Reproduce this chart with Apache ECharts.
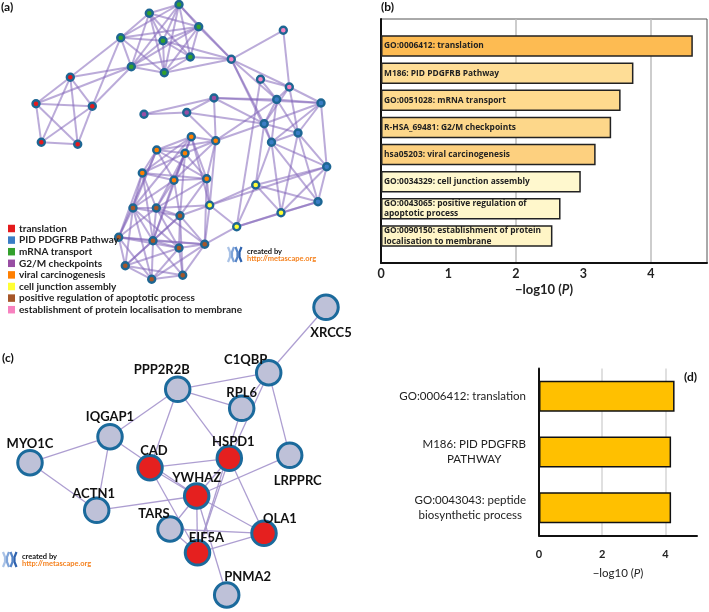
<!DOCTYPE html>
<html><head><meta charset="utf-8">
<script src="https://cdn.jsdelivr.net/npm/echarts@6/dist/echarts.min.js"></script>
<style>html,body{margin:0;padding:0;background:#fff}#c{width:709px;height:612px}</style>
</head><body><div id="c"></div>
<script>
// ---------- DATA ----------
// (b) enrichment bar chart
const termsB = ['GO:0006412: translation', 'M186: PID PDGFRB Pathway', 'GO:0051028: mRNA transport',
  'R-HSA_69481: G2/M checkpoints', 'hsa05203: viral carcinogenesis', 'GO:0034329: cell junction assembly',
  'GO:0043065: positive regulation of\napoptotic process', 'GO:0090150: establishment of protein\nlocalisation to membrane'];
const valuesB = [4.62, 3.74, 3.55, 3.41, 3.18, 2.96, 2.66, 2.54];
const ticksB = [0, 1, 2, 3, 4];
// (d) MCODE enrichment
const termsD = ['GO:0006412: translation', 'M186: PID PDGFRB\nPATHWAY', 'GO:0043043: peptide\nbiosynthetic process'];
const valuesD = [4.29, 4.18, 4.18];
const ticksD = [0, 2, 4];
// (a) enriched-term network
const netCategories = ['translation', 'PID PDGFRB Pathway', 'mRNA transport', 'G2/M checkpoints',
  'viral carcinogenesis', 'cell junction assembly', 'positive regulation of apoptotic process',
  'establishment of protein localisation to membrane'];
const netIds = ['r1','r2','r3','r4','r5', 'b1','b2','b3','b4','b5','b6','b7',
  'g1','g2','g3','g4','g5','g6','g7','g8', 'm1','m2','m3', 'o1','o2','o3','o4','o5','o6','o7',
  'y1','y2','y3','y4', 'w1','w2','w3','w4','w5','w6','w7','w8','w9','w10', 'p1','p2','p3','p4'];
const netCat = [0,0,0,0,0, 1,1,1,1,1,1,1, 2,2,2,2,2,2,2,2, 3,3,3, 4,4,4,4,4,4,4,
  5,5,5,5, 6,6,6,6,6,6,6,6,6,6, 7,7,7,7];
const netX = [70.3,36,92.3,41.3,77.7, 276.7,321,264.2,298,271.5,326.7,318,
  179,149.3,198.7,120.7,163,190.3,131.3,164.3, 144,186.7,214, 191.3,215.7,156.7,185,142.3,174,206.7,
  255.7,209.7,281,236.7, 133,156.3,180,118.7,153,179,204.7,125.3,151.7,182.7, 283.3,231.3,260.5,289.3];
const netY = [77.3,103.7,106.3,142.3,144.3, 99.5,103,123.7,133,142.3,166.7,201.7,
  4.5,13.3,26.7,37.7,40.7,57,66.7,72.7, 114.3,112.5,98, 136.7,140.7,150,153.3,173,180.3,178.7,
  185,205.3,212.7,226.7, 208,208,215.7,237.3,240.7,248,244.3,265.7,279.3,275.3, 30.3,59.3,79.3,87];
const netEdges = [
 ['g1','g2'],['g1','g3'],['g1','g5'],['g1','g6'],['g1','g8'],['g1','g4'],['g1','g7'],['g2','g3'],['g2','g4'],['g2','g5'],
 ['g2','g6'],['g2','g7'],['g2','g8'],['g3','g5'],['g3','g6'],['g3','g8'],['g3','g7'],['g4','g5'],['g4','g7'],['g4','g8'],
 ['g5','g6'],['g5','g7'],['g5','g8'],['g6','g7'],['g6','g8'],['g7','g8'],['g3','g4'],
 ['g1','p2'],['g3','p2'],['g6','p2'],['g5','p2'],['g8','p2'],
 ['g4','r1'],['g7','r1'],['g7','r3'],['g4','r3'],['g7','r2'],
 ['r1','r2'],['r1','r3'],['r1','r4'],['r1','r5'],['r2','r3'],['r2','r4'],['r2','r5'],['r3','r4'],['r3','r5'],['r4','r5'],
 ['p1','p2'],['p1','p4'],['p2','p4'],['p3','p4'],['p2','b1'],['p2','b5'],['p2','b3'],['p3','y4'],['p3','b1'],['p4','b1'],
 ['p4','b4'],['p4','b3'],['p4','b2'],
 ['m1','m2'],['m1','m3'],['m2','m3'],['m2','b3'],['m3','b1'],['m3','b2'],['m3','o2'],['m2','o2'],['m3','b3'],
 ['b1','b2'],['b1','b3'],['b1','b4'],['b1','b5'],['b2','b3'],['b2','b4'],['b2','b5'],['b3','b4'],['b3','b5'],['b4','b5'],
 ['b4','b6'],['b5','b6'],['b4','b7'],['b5','b7'],['b6','b7'],['b2','b6'],
 ['b5','y1'],['b5','y3'],['b4','y3'],['b6','y1'],['b6','y3'],['b7','y1'],['b7','y3'],['b3','y1'],['b6','y2'],['b7','y4'],
 ['o2','b3'],['o2','b1'],
 ['y1','y2'],['y1','y3'],['y1','y4'],['y2','y4'],['y3','y4'],['y2','o7'],['y2','w3'],['y2','w7'],['y2','o2'],['y4','w7'],
 ['y2','w2'],['y2','o1'],
 ['o1','o2'],['o1','o3'],['o1','o4'],['o1','o5'],['o1','o6'],['o1','o7'],['o2','o4'],['o2','o7'],['o2','o6'],['o3','o4'],
 ['o3','o5'],['o3','o6'],['o3','o7'],['o4','o5'],['o4','o6'],['o4','o7'],['o5','o6'],['o5','o7'],['o6','o7'],['o2','o3'],
 ['o5','w1'],['o5','w2'],['o5','w4'],['o6','w1'],['o6','w2'],['o6','w3'],['o7','w3'],['o7','w2'],['o3','w1'],['o4','w2'],
 ['o4','w3'],['o7','w7'],['o6','w5'],['o3','w4'],['o5','w5'],['o4','w5'],['o1','w1'],
 ['w1','w2'],['w1','w3'],['w1','w4'],['w1','w5'],['w1','w6'],['w1','w8'],['w2','w3'],['w2','w4'],['w2','w5'],['w2','w6'],
 ['w2','w7'],['w3','w5'],['w3','w6'],['w3','w7'],['w4','w5'],['w4','w6'],['w4','w7'],['w4','w8'],['w4','w9'],['w5','w6'],
 ['w5','w7'],['w5','w8'],['w5','w9'],['w5','w10'],['w6','w7'],['w6','w8'],['w6','w9'],['w6','w10'],['w7','w10'],['w8','w9'],
 ['w8','w10'],['w9','w10'],['w7','w9'],['w3','w8'],['w1','w9'],['w3','w10']
];
// (c) PPI network (MCODE)
const ppiNames = ['XRCC5','C1QBP','PPP2R2B','RPL6','IQGAP1','MYO1C','CAD','HSPD1','LRPPRC','YWHAZ','ACTN1','TARS','OLA1','EIF5A','PNMA2'];
const ppiX = [326, 268.7, 177.7, 241.7, 110, 30, 150, 229.3, 289.7, 196.7, 96.7, 170, 264, 197.5, 226.7];
const ppiY = [307.3, 372.7, 389.3, 408.3, 436.7, 462.7, 467.7, 458.3, 455.3, 496, 510.3, 529, 533.3, 552.8, 595];
const ppiInMcode = [0,0,0,0,0,0,1,1,0,1,0,0,1,1,0];
const ppiEdges = [
 ['XRCC5','C1QBP'],['C1QBP','PPP2R2B'],['C1QBP','RPL6'],['C1QBP','LRPPRC'],['C1QBP','HSPD1'],
 ['PPP2R2B','RPL6'],['PPP2R2B','HSPD1'],['PPP2R2B','CAD'],['PPP2R2B','IQGAP1'],['RPL6','EIF5A'],
 ['IQGAP1','MYO1C'],['IQGAP1','ACTN1'],['IQGAP1','YWHAZ'],['MYO1C','ACTN1'],['ACTN1','YWHAZ'],
 ['CAD','HSPD1'],['CAD','YWHAZ'],['CAD','EIF5A'],['HSPD1','YWHAZ'],['HSPD1','OLA1'],['HSPD1','EIF5A'],
 ['LRPPRC','YWHAZ'],['YWHAZ','TARS'],['YWHAZ','EIF5A'],['YWHAZ','OLA1'],['YWHAZ','PNMA2'],
 ['TARS','OLA1'],['TARS','EIF5A'],['EIF5A','OLA1']
];

// ---------- STYLE ----------
const FONT = 'Lato';
const catColors = ['#E41A1C','#3A7DC5','#33A02C','#984EA3','#FF7F00','#FFFF33','#A65628','#F781BF'];
const barColorsB = ['#FDBB52','#FEDD96','#FEDA8E','#FDD78A','#FDD07F','#FFF8CE','#FFF7CB','#FFF5C6'];
const labelOffsetC = {XRCC5:['bottom',5,5.5], C1QBP:['top',-23,7], PPP2R2B:['top',-16,0.5], RPL6:['top',0,4.5],
  IQGAP1:['top',0,0.5], MYO1C:['top',0,1.5], CAD:['top',4,3], HSPD1:['top',4,3.5], LRPPRC:['bottom',8,5],
  YWHAZ:['top',0,2.5], ACTN1:['top',-3,3.5], TARS:['top',-16,5], OLA1:['top',16,6], EIF5A:['top',9,5.5], PNMA2:['top',21,2.5]};

const chart = echarts.init(document.getElementById('c'), null, {renderer: 'canvas'});

const netData = netIds.map((id, i) => ({name: id, value: [netX[i], netY[i]], category: netCat[i]}));
const netLinks = netEdges.map(e => ({source: e[0], target: e[1]}));
const ppiData = ppiNames.map((n, i) => {
  const lo = labelOffsetC[n];
  return {name: n, value: [ppiX[i], ppiY[i]],
    itemStyle: {color: ppiInMcode[i] ? '#E5201F' : '#BEC1D8'},
    label: {position: lo[0], offset: [lo[1], lo[2]]}};
});
const ppiLinks = ppiEdges.map(e => ({source: e[0], target: e[1]}));

const bCats = [''].concat(termsB, ['']);
const bData = [null].concat(valuesB.map((v, i) => ({value: v, itemStyle: {color: barColorsB[i]}})), [null]);

function watermark(x, y) {
  return {type: 'group', x: x, y: y, children: [
    {type: 'polyline', shape: {points: [[0,0],[2,5],[2,10],[0,15]]}, style: {stroke: '#A9C2E6', lineWidth: 2.2, fill: null}},
    {type: 'polyline', shape: {points: [[6,0],[4,5],[4,10],[6,15]]}, style: {stroke: '#7EA3D8', lineWidth: 2.2, fill: null}},
    {type: 'polyline', shape: {points: [[7.5,0],[9.5,5],[9.5,10],[7.5,15]]}, style: {stroke: '#5584C6', lineWidth: 2.2, fill: null}},
    {type: 'polyline', shape: {points: [[13.5,0],[11.5,5],[11.5,10],[13.5,15]]}, style: {stroke: '#2E62AE', lineWidth: 2.2, fill: null}},
    {type: 'text', x: 19, y: 4.5, style: {text: 'created by', fontSize: 7.5, fontWeight: 'bold', fontFamily: FONT, fill: '#111', verticalAlign: 'middle'}},
    {type: 'text', x: 19, y: 12, style: {text: 'http://metascape.org', fontSize: 7.5, fontWeight: 'bold', fontFamily: FONT, fill: '#F5821F', verticalAlign: 'middle'}}
  ]};
}

const option = {
  animation: false,
  textStyle: {fontFamily: FONT},
  grid: [
    {left: 0, top: 0, width: 360, height: 612},
    {left: 381, top: 19, width: 326, height: 244, show: true, borderColor: '#555', borderWidth: 1},
    {left: 539, top: 368.5, width: 158, height: 167}
  ],
  xAxis: [
    {gridIndex: 0, type: 'value', min: 0, max: 360, show: false},
    {gridIndex: 1, type: 'value', min: 0, max: 4.83, interval: 1,
      axisLine: {show: true, lineStyle: {color: '#111', width: 2}}, axisTick: {show: false},
      splitLine: {show: false},
      axisLabel: {showMaxLabel: false, fontSize: 12.5, fontWeight: 'bold', color: '#222', margin: 4,
        formatter: v => ticksB.indexOf(v) >= 0 ? String(v) : ''},
      name: '\u2212log10 ({i|P})', nameLocation: 'middle', nameGap: 20,
      nameTextStyle: {fontSize: 13, fontWeight: 'bold', color: '#222', rich: {i: {fontStyle: 'italic', fontSize: 13, fontWeight: 'bold', color: '#222'}}}},
    {gridIndex: 1, type: 'value', min: 0, max: 4.83, interval: 2, show: true, position: 'top',
      axisLine: {show: false}, axisTick: {show: false}, axisLabel: {show: false},
      splitLine: {show: true, showMinLine: false, showMaxLine: false, lineStyle: {color: '#BDBDBD', width: 1.5}}},
    {gridIndex: 2, type: 'value', min: 0, max: 5, interval: 2,
      axisLine: {show: true, lineStyle: {color: '#111', width: 2}}, axisTick: {show: false},
      splitLine: {show: true, showMinLine: false, showMaxLine: false, lineStyle: {color: '#D6D6D6', width: 1.5}},
      axisLabel: {showMaxLabel: false, fontSize: 11, fontWeight: 'bold', color: '#222', margin: 13,
        formatter: v => ticksD.indexOf(v) >= 0 ? String(v) : ''},
      name: '\u2212log10 ({i|P})', nameLocation: 'middle', nameGap: 32,
      nameTextStyle: {fontSize: 11.5, color: '#222', rich: {i: {fontStyle: 'italic', fontSize: 11.5, color: '#222'}}}}
  ],
  yAxis: [
    {gridIndex: 0, type: 'value', min: 0, max: 612, inverse: true, show: false},
    {gridIndex: 1, type: 'category', data: bCats, inverse: true, boundaryGap: false,
      axisLine: {show: true, lineStyle: {color: '#111', width: 2}}, axisTick: {show: false},
      axisLabel: {show: false}, splitLine: {show: false}},
    {gridIndex: 2, type: 'category', data: termsD, inverse: true,
      axisLine: {show: true, lineStyle: {color: '#111', width: 2}}, axisTick: {show: false},
      axisLabel: {fontSize: 11.5, color: '#222', margin: 13, align: 'right',
        formatter: v => v.split('\n').map(s => '{c|' + s + '}').join('\n'),
        rich: {c: {align: 'center', fontSize: 11.5, color: '#222', lineHeight: 15}}}}
  ],
  legend: {
    data: netCategories, orient: 'vertical', left: 8, top: 223.5, padding: 0,
    itemWidth: 7, itemHeight: 7.5, itemGap: 1.6, icon: 'rect', selectedMode: false,
    itemStyle: {borderWidth: 0},
    textStyle: {fontSize: 10, fontFamily: FONT, fontWeight: 'bold', color: '#222', padding: [0, 0, 0, -1]}
  },
  series: [
    {type: 'graph', name: 'network', coordinateSystem: 'cartesian2d', xAxisIndex: 0, yAxisIndex: 0,
      layout: 'none', silent: true,
      categories: netCategories.map((n, i) => ({name: n, itemStyle: {color: catColors[i]}})),
      data: netData, links: netLinks, symbolSize: 7,
      itemStyle: {borderColor: '#1D6693', borderWidth: 2.4},
      lineStyle: {color: '#8466BA', opacity: 0.55, width: 2, curveness: 0},
      label: {show: false}, emphasis: {disabled: true}},
    {type: 'graph', name: 'ppi', coordinateSystem: 'cartesian2d', xAxisIndex: 0, yAxisIndex: 0,
      layout: 'none', silent: true, data: ppiData, links: ppiLinks, symbolSize: 24.5,
      itemStyle: {borderColor: '#1B6A9C', borderWidth: 3},
      lineStyle: {color: '#A494CC', opacity: 0.9, width: 1.3, curveness: 0},
      label: {show: true, formatter: '{b}', fontSize: 13, fontWeight: 'bold', color: '#111', fontFamily: FONT, distance: 0},
      emphasis: {disabled: true}},
    {type: 'bar', xAxisIndex: 1, yAxisIndex: 1, data: bData, barWidth: 21.5, silent: true, z: 3,
      itemStyle: {borderColor: '#222', borderWidth: 1.5},
      label: {show: true, position: 'insideLeft', distance: 3, formatter: p => p.name,
        fontSize: 8.4, fontWeight: 'bold', color: '#222', fontFamily: 'Open Sans', lineHeight: 10.5}},
    {type: 'bar', xAxisIndex: 3, yAxisIndex: 2, data: valuesD, barWidth: 31, silent: true, z: 3,
      itemStyle: {color: '#FFC000', borderColor: '#111', borderWidth: 1.5}}
  ],
  graphic: [
    {type: 'text', x: 1, y: 1, style: {text: '(a)', fontSize: 12, fontWeight: 'bold', fontFamily: FONT, fill: '#111'}},
    {type: 'text', x: 381, y: 1, style: {text: '(b)', fontSize: 12, fontWeight: 'bold', fontFamily: FONT, fill: '#111'}},
    {type: 'text', x: 2, y: 352, style: {text: '(c)', fontSize: 12, fontWeight: 'bold', fontFamily: FONT, fill: '#111'}},
    {type: 'text', x: 684, y: 371, style: {text: '(d)', fontSize: 12, fontWeight: 'bold', fontFamily: FONT, fill: '#111'}},
    watermark(228, 247),
    watermark(3, 552)
  ]
};
chart.setOption(option);
</script></body></html>
